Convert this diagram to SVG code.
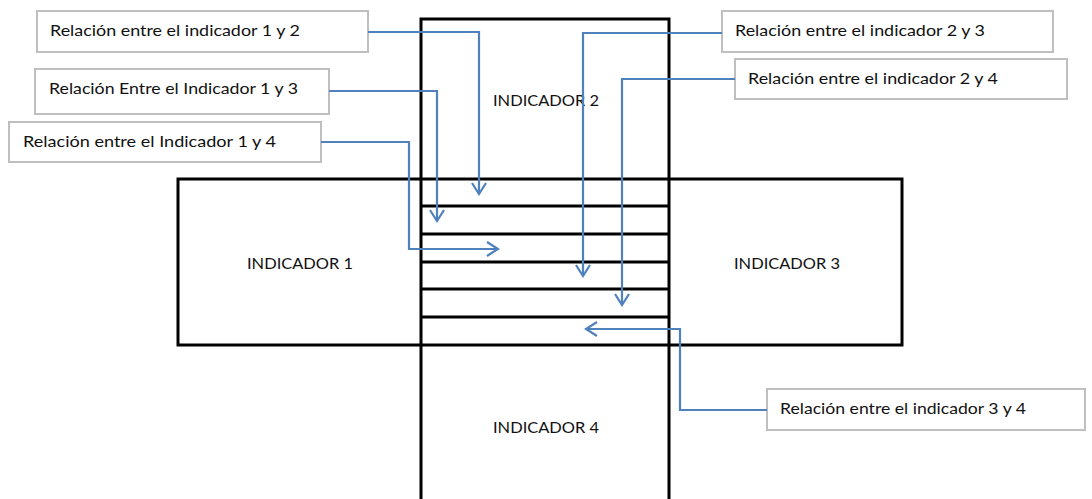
<svg xmlns="http://www.w3.org/2000/svg" width="1092" height="499" viewBox="0 0 1092 499">
<style>
.blk{fill:none;stroke:#000;stroke-width:3}
.div{stroke:#000;stroke-width:3}
.lbl{fill:#fff;stroke:#bfbfbf;stroke-width:2}
.t{font-family:Lato,"Liberation Sans",sans-serif;font-size:16px;fill:#111}
.c{fill:none;stroke:#4f81bd;stroke-width:2.2}
</style>
<defs>
<marker id="ah" markerUnits="userSpaceOnUse" markerWidth="14" markerHeight="16" viewBox="0 0 14 16" refX="12" refY="8" orient="auto">
<path d="M1,1 L12,8 L1,15" fill="none" stroke="#4f81bd" stroke-width="2.2"/>
</marker>
</defs>
<rect x="0" y="0" width="1092" height="499" fill="#fff"/>
<g id="ind1">
<rect class="blk" x="178" y="179" width="724" height="166"/>
<text class="t" x="247" y="269" textLength="106" lengthAdjust="spacingAndGlyphs">INDICADOR 1</text>
</g>
<g id="ind3">
<text class="t" x="734" y="269" textLength="106" lengthAdjust="spacingAndGlyphs">INDICADOR 3</text>
</g>
<g id="ind2">
<rect class="blk" x="421" y="19" width="248" height="490"/>
<text class="t" x="493" y="106" textLength="106" lengthAdjust="spacingAndGlyphs">INDICADOR 2</text>
</g>
<g id="ind4">
<text class="t" x="493" y="433" textLength="106" lengthAdjust="spacingAndGlyphs">INDICADOR 4</text>
</g>
<g id="grid">
<line class="div" x1="421" y1="206" x2="669" y2="206"/>
<line class="div" x1="421" y1="234" x2="669" y2="234"/>
<line class="div" x1="421" y1="262" x2="669" y2="262"/>
<line class="div" x1="421" y1="289" x2="669" y2="289"/>
<line class="div" x1="421" y1="317" x2="669" y2="317"/>
</g>
<g id="r12">
<rect class="lbl" x="37" y="11" width="331" height="41"/>
<text class="t" x="50" y="36" textLength="250" lengthAdjust="spacingAndGlyphs">Relación entre el indicador 1 y 2</text>
</g>
<g id="r13">
<rect class="lbl" x="35" y="69" width="294" height="45"/>
<text class="t" x="49" y="94" textLength="249" lengthAdjust="spacingAndGlyphs">Relación Entre el Indicador 1 y 3</text>
</g>
<g id="r14">
<rect class="lbl" x="9" y="122" width="312" height="40"/>
<text class="t" x="23" y="147" textLength="253" lengthAdjust="spacingAndGlyphs">Relación entre el Indicador  1 y 4</text>
</g>
<g id="r23">
<rect class="lbl" x="722" y="11" width="331" height="41"/>
<text class="t" x="735" y="36" textLength="250" lengthAdjust="spacingAndGlyphs">Relación entre el indicador 2 y 3</text>
</g>
<g id="r24">
<rect class="lbl" x="735" y="59" width="332" height="40"/>
<text class="t" x="748" y="84" textLength="250" lengthAdjust="spacingAndGlyphs">Relación entre el indicador 2 y 4</text>
</g>
<g id="r34">
<rect class="lbl" x="767" y="389" width="318" height="41"/>
<text class="t" x="780" y="414" textLength="246" lengthAdjust="spacingAndGlyphs">Relación entre el indicador 3 y 4</text>
</g>
<g id="connectors">
<path class="c" d="M368,32 H479 V194" marker-end="url(#ah)"/>
<path class="c" d="M329,91 H437 V221" marker-end="url(#ah)"/>
<path class="c" d="M321,142 H409 V249 H498" marker-end="url(#ah)"/>
<path class="c" d="M722,33 H583 V276" marker-end="url(#ah)"/>
<path class="c" d="M735,79 H622 V305" marker-end="url(#ah)"/>
<path class="c" d="M767,410 H680 V329 H586" marker-end="url(#ah)"/>
</g>
</svg>
